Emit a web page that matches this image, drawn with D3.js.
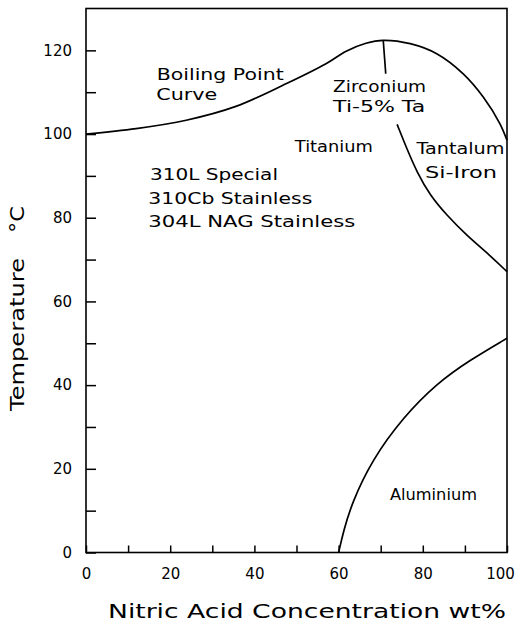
<!DOCTYPE html>
<html>
<head>
<meta charset="utf-8">
<script src="https://cdn.jsdelivr.net/npm/d3@7"></script>
<style>
  body { margin: 0; background: #fff; }
  svg text { font-family: "DejaVu Sans", sans-serif; fill: #000; }
</style>
</head>
<body>
<svg id="chart" width="515" height="624"></svg>
<script>
// nitric acid concentration (wt%) / temperature (C)
const boilingConc = [0, 11.9, 23.8, 35.6, 47.5, 57, 61.8, 66.5, 70.6, 77, 83.3, 89.6, 94.4, 98.3, 100];
const boilingTemp = [100, 101.3, 103.3, 106.6, 112, 116.8, 119.8, 121.7, 122.4, 121.6, 119.2, 114.4, 108.8, 102.5, 98.5];

const zirconiumConc = [70.6, 71.2];
const zirconiumTemp = [122.4, 114.4];

const tantalumConc = [73.9, 76.2, 78.6, 81.7, 85.7, 90.4, 96, 100];
const tantalumTemp = [102.3, 96.5, 90.9, 85.4, 80.6, 75.8, 71, 67.1];

const aluminiumConc = [60, 61.2, 63.1, 67.9, 75.4, 83.3, 91.2, 100];
const aluminiumTemp = [0, 5.2, 11.7, 22.1, 32.4, 40.4, 46, 51.2];

const xTicks = [0, 10, 20, 30, 40, 50, 60, 70, 80, 90, 100];
const yTicks = [0, 10, 20, 30, 40, 50, 60, 70, 80, 90, 100, 110, 120];

const regionText = ['Boiling Point', 'Curve', 'Zirconium', 'Ti-5% Ta', 'Titanium',
  'Tantalum', 'Si-Iron', '310L Special', '310Cb Stainless', '304L NAG Stainless', 'Aluminium'];
const regionConc = [16.8, 16.7, 58.7, 58.7, 49.6, 78.5, 80.5, 15.2, 14.8, 14.8, 72.2];
const regionTemp = [112.8, 108.1, 110, 105.3, 95.7, 95.2, 89.4, 89, 83.3, 77.8, 12.5];
const regionWidth = [127, 61, 93, 92, 78, 88, 72, 128, 164, 207, 87];

const svg = d3.select('#chart');
const plotLeft = 86;
const plotRight = 507;
const plotTop = 8.5;
const plotBottom = 552.5;

const x = d3.scaleLinear().domain([0, 100]).range([plotLeft, plotRight]);
const y = d3.scaleLinear().domain([0, 130]).range([plotBottom, plotTop]);

/* ticks */
const xAxis = svg.append('g')
  .attr('transform', `translate(0,${plotBottom})`)
  .call(d3.axisBottom(x).tickValues(xTicks).tickSizeInner(-7).tickSizeOuter(0)
    .tickPadding(16).tickFormat(d => (d % 20 === 0 ? d : '')));

const yAxis = svg.append('g')
  .attr('transform', `translate(${plotLeft},0)`)
  .call(d3.axisLeft(y).tickValues(yTicks).tickSizeInner(-10).tickSizeOuter(0)
    .tickPadding(14).tickFormat(d => (d % 20 === 0 ? d : '')));

[xAxis, yAxis].forEach(g => {
  g.select('.domain').remove();
  g.selectAll('line').attr('stroke', '#000').attr('stroke-width', 1.5);
  g.selectAll('text').attr('font-size', 15).attr('fill', '#000');
});

// last label sits a bit left so it stays on the page
xAxis.selectAll('.tick text').filter(d => d === 100).attr('dx', -7);

/* frame */
svg.append('rect')
  .attr('x', plotLeft)
  .attr('y', plotTop)
  .attr('width', plotRight - plotLeft)
  .attr('height', plotBottom - plotTop)
  .attr('fill', 'none')
  .attr('stroke', '#000')
  .attr('stroke-width', 1.6);

/* boundary curves */
const drawCurve = (xs, ys, curve) => {
  const pts = xs.map((d, i) => [d, ys[i]]);
  svg.append('path')
    .attr('fill', 'none')
    .attr('stroke', '#000')
    .attr('stroke-width', 1.7)
    .attr('d', d3.line().x(d => x(d[0])).y(d => y(d[1])).curve(curve)(pts));
};

drawCurve(boilingConc, boilingTemp, d3.curveCatmullRom);
drawCurve(zirconiumConc, zirconiumTemp, d3.curveLinear);
drawCurve(tantalumConc, tantalumTemp, d3.curveBasis);
drawCurve(aluminiumConc, aluminiumTemp, d3.curveBasis);

/* region labels */
regionText.forEach((t, i) => {
  svg.append('text')
    .attr('x', x(regionConc[i]))
    .attr('y', y(regionTemp[i]))
    .attr('font-size', 16.5)
    .attr('textLength', regionWidth[i])
    .attr('lengthAdjust', 'spacingAndGlyphs')
    .text(t);
});

/* axis titles */
svg.append('text')
  .attr('x', 108)
  .attr('y', 618)
  .attr('font-size', 19)
  .attr('textLength', 398)
  .attr('lengthAdjust', 'spacingAndGlyphs')
  .text('Nitric Acid Concentration wt%');

svg.append('text')
  .attr('transform', 'translate(24,411) rotate(-90)')
  .attr('font-size', 19)
  .attr('textLength', 153)
  .attr('lengthAdjust', 'spacingAndGlyphs')
  .text('Temperature');

svg.append('text')
  .attr('transform', 'translate(24,233) rotate(-90)')
  .attr('font-size', 19)
  .attr('textLength', 27)
  .attr('lengthAdjust', 'spacingAndGlyphs')
  .text('°C');
</script>
</body>
</html>
